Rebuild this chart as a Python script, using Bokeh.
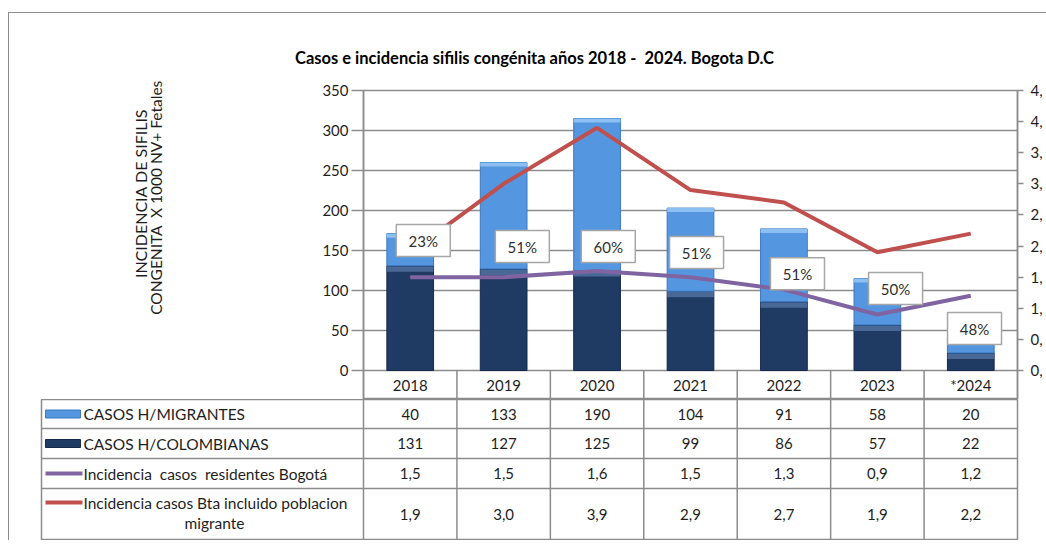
from math import pi
from bokeh.plotting import figure
from bokeh.layouts import column, row
from bokeh.models import Range1d, LinearAxis, FixedTicker, ColumnDataSource
from bokeh.core.properties import value
from bokeh.embed import file_html
from bokeh.resources import INLINE

NB = "\u00a0"
# ---------------- data ----------------
years = ["2018", "2019", "2020", "2021", "2022", "2023", "*2024"]
casos_migrantes = [40, 133, 190, 104, 91, 58, 20]
casos_colombianas = [131, 127, 125, 99, 86, 57, 22]
inc_residentes = [1.5, 1.5, 1.6, 1.5, 1.3, 0.9, 1.2]
inc_incl_migrantes = [1.9, 3.0, 3.9, 2.9, 2.7, 1.9, 2.2]
left_ticks = [0, 50, 100, 150, 200, 250, 300, 350]
right_ticks = [0, 0.5, 1, 1.5, 2, 2.5, 3, 3.5, 4, 4.5]
right_tick_labels = ["0,", "0,", "1,", "1,", "2,", "2,", "3,", "3,", "4,", "4,"]
series_names = ["CASOS H/MIGRANTES", "CASOS H/COLOMBIANAS",
                f"Incidencia {NB}casos {NB}residentes Bogotá",
                "Incidencia casos Bta incluido poblacion"]
title_text = f"Casos e incidencia sifilis congénita años 2018 - {NB}2024. Bogota D.C"
ylab1 = "INCIDENCIA DE SIFILIS"
ylab2 = f"CONGENITA {NB}X 1000 NV+ Fetales"

# ---------------- layout constants ----------------
FONT = "Lato"
GRAY = "#8C8C8C"
TXT = "#1E1E1E"
LIGHT = "#5497E0"
NAVY = "#1F3A63"
PURPLE = "#8064A2"
RED = "#C0504D"
Y0 = -36.25                      # header row depth (left-axis units)
label_y = [162.5, 155, 155, 147.5, 121, 102.5, 52.5]   # % box centres
label_dx = [0.14, 0.2, 0.12, 0.065, 0.145, 0.195, 0.04]
ROW_EDGES = [0, 29, 59, 89, 141]
W = 1037
LW = 300
TOP_H = 55            # title strip (page y 13..68)
MID_H = 399 - 68      # chart row (page y 68..399)

xs = [i + 0.5 for i in range(len(years))]
totals = [a + b for a, b in zip(casos_colombianas, casos_migrantes)]
pct = [f"{round(m / t * 100)}%" for m, t in zip(casos_migrantes, totals)]


def blank(width, height, xr, yr):
    p = figure(width=width, height=height, x_range=xr, y_range=yr,
               x_axis_type=None, y_axis_type=None, output_backend="svg",
               toolbar_location=None, min_border_left=0, min_border_right=0,
               min_border_top=0, min_border_bottom=0, frame_align=False)
    p.outline_line_color = None
    p.grid.visible = False
    p.border_fill_color = "white"
    p.background_fill_color = "white"
    return p


# ---------------- title strip ----------------
pT = blank(W, TOP_H, Range1d(0, W), Range1d(0, TOP_H))
pT.text(x=[534 - 9], y=[68 - 57], text=[title_text], text_align="center",
        text_baseline="middle", text_font=value(FONT), text_font_style="bold",
        text_font_size="16.5px", text_color="#000000")

# ---------------- y axis title ----------------
pL = blank(LW, MID_H, Range1d(0, LW), Range1d(0, MID_H))
pL.text(x=[140 - 9], y=[399 - 193], text=[ylab1], angle=pi / 2,
        text_align="center", text_baseline="middle", text_font=value(FONT),
        text_font_size="16px", text_color=TXT)
pL.text(x=[155 - 9], y=[399 - 197], text=[ylab2], angle=pi / 2,
        text_align="center", text_baseline="middle", text_font=value(FONT),
        text_font_size="15.5px", text_color=TXT)

# ---------------- chart ----------------
pA = figure(width=W - LW, height=MID_H, x_range=Range1d(0, 7), y_range=Range1d(Y0, 350),
            x_axis_type=None, output_backend="svg", toolbar_location=None,
            min_border_left=363 - 9 - LW, min_border_right=29, min_border_top=90 - 68,
            min_border_bottom=0, frame_align=False)
pA.extra_y_ranges = {"right": Range1d(Y0 * 4.5 / 350, 4.5)}
pA.background_fill_color = "white"
pA.border_fill_color = "white"
pA.outline_line_color = GRAY
pA.outline_line_width = 1.5
pA.xgrid.visible = False
pA.ygrid.ticker = FixedTicker(ticks=left_ticks)
pA.ygrid.grid_line_color = GRAY
pA.ygrid.grid_line_width = 1.5

ya = pA.yaxis[0]
ya.ticker = FixedTicker(ticks=left_ticks, minor_ticks=[])
ra = LinearAxis(y_range_name="right",
                ticker=FixedTicker(ticks=right_ticks, minor_ticks=[]),
                major_label_overrides={t: l for t, l in zip(right_ticks, right_tick_labels)})
pA.add_layout(ra, "right")
for ax, tout, stand in ((ya, 12, 3), (ra, 6, 7)):
    ax.axis_line_color = GRAY
    ax.axis_line_width = 1.5
    ax.major_tick_line_color = GRAY
    ax.major_tick_line_width = 1.5
    ax.major_tick_out = tout
    ax.major_tick_in = 0
    ax.minor_tick_line_color = None
    ax.major_label_standoff = stand
    ax.major_label_text_font = FONT
    ax.major_label_text_font_size = "15px"
    ax.major_label_text_color = TXT

src = ColumnDataSource(dict(x=xs, col=casos_colombianas, tot=totals,
                            col_hi_b=[c - 7.5 for c in casos_colombianas],
                            col_hi_t=[c - 1 for c in casos_colombianas],
                            tot_hi_b=[t - 5 for t in totals]))
pA.vbar(x="x", width=0.5, bottom=0, top="col", fill_color=NAVY,
        line_color="#152A4A", line_width=1, source=src)
pA.vbar(x="x", width=0.5, bottom="col_hi_b", top="col_hi_t", fill_color="#4E6E9B",
        line_color=None, fill_alpha=0.9, source=src)
pA.vbar(x="x", width=0.5, bottom="col", top="tot", fill_color=LIGHT,
        line_color="#3C78C2", line_width=1, source=src)
pA.vbar(x="x", width=0.5, bottom="tot_hi_b", top="tot", fill_color="#8CC0F2",
        line_color=None, source=src)

# header row of the table (year labels)
pA.segment(x0=list(range(1, 7)), y0=[0] * 6, x1=list(range(1, 7)), y1=[Y0] * 6,
           line_color=GRAY, line_width=1.5)
pA.text(x=xs, y=[Y0 / 2] * len(xs), text=years, text_align="center",
        text_baseline="middle", text_font=value(FONT), text_font_size="15px",
        text_color=TXT)

pA.line(xs, inc_residentes, y_range_name="right", line_color=PURPLE, line_width=4)
pA.line(xs, inc_incl_migrantes, y_range_name="right", line_color=RED, line_width=4)

lx = [x + d for x, d in zip(xs, label_dx)]
pA.rect(x=lx, y=label_y, width=54, height=32, width_units="screen",
        height_units="screen", fill_color="white", line_color="#A6A6A6", line_width=1.5)
pA.text(x=lx, y=label_y, text=pct, text_align="center", text_baseline="middle",
        text_font=value(FONT), text_font_size="15px", text_color="#303030")

# ---------------- table ----------------
XL = -322 / 93.43
H = ROW_EDGES[-1]
pB = figure(width=W, height=H, x_range=Range1d(XL, 7), y_range=Range1d(-H, 0),
            x_axis_type=None, y_axis_type=None, output_backend="svg",
            toolbar_location=None, min_border_left=41 - 9, min_border_right=29,
            min_border_top=0, min_border_bottom=0, frame_align=False)
pB.background_fill_color = "white"
pB.border_fill_color = "white"
pB.outline_line_color = GRAY
pB.outline_line_width = 1.5
pB.grid.visible = False

inner = ROW_EDGES[1:-1]
pB.segment(x0=[XL] * len(inner), y0=[-r for r in inner], x1=[7] * len(inner),
           y1=[-r for r in inner], line_color=GRAY, line_width=1.5)
pB.segment(x0=list(range(0, 7)), y0=[0] * 7, x1=list(range(0, 7)), y1=[-H] * 7,
           line_color=GRAY, line_width=1.5)

centers = [-(a + b) / 2 for a, b in zip(ROW_EDGES[:-1], ROW_EDGES[1:])]
fmt = lambda v: f"{v:.1f}".replace(".", ",")
rows = [[str(v) for v in casos_migrantes], [str(v) for v in casos_colombianas],
        [fmt(v) for v in inc_residentes], [fmt(v) for v in inc_incl_migrantes]]
for r, cy in zip(rows, centers):
    pB.text(x=xs, y=[cy] * len(xs), text=r, text_align="center", text_baseline="middle",
            text_font=value(FONT), text_font_size="15px", text_color=TXT)

name_x = (83 - 363) / 93.43
name_y = [centers[0], centers[1], centers[2], -(502 - 399)]
pB.text(x=[name_x] * 4, y=name_y, text=series_names, text_align="left",
        text_baseline="middle", text_font=value(FONT), text_font_size="15.5px",
        text_color=TXT)
pB.text(x=[(214 - 363) / 93.43], y=[-(522 - 399)], text=["migrante"], text_align="center",
        text_baseline="middle", text_font=value(FONT), text_font_size="15.5px",
        text_color=TXT)
sw_x = (62.5 - 363) / 93.43
pB.rect(x=[sw_x, sw_x], y=name_y[:2], width=35, height=8, width_units="screen",
        height_units="screen", fill_color=[LIGHT, NAVY], line_color=["#3C78C2", "#152A4A"])
pB.segment(x0=[(45 - 363) / 93.43] * 2, y0=name_y[2:], x1=[(82 - 363) / 93.43] * 2,
           y1=name_y[2:], line_color=[PURPLE, RED], line_width=4)

layout = column(pT, row(pL, pA), pB, margin=(12, 0, 0, 8),
                styles={"border-left": f"1px solid {GRAY}", "border-top": f"1px solid {GRAY}"})

open("out.html", "w").write(file_html(layout, INLINE))
